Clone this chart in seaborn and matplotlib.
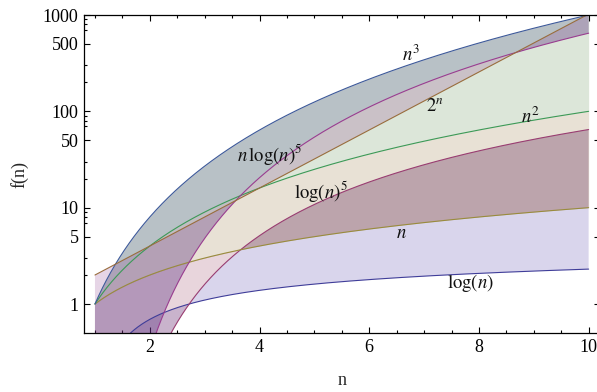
import numpy as np
import pandas as pd
import matplotlib
matplotlib.use("Agg")
import matplotlib.pyplot as plt
import seaborn as sns

# ---- data: the seven growth functions (in plot order) ----
curve_names = ["log(n)", "log(n)^5", "n", "n^2", "n^3", "n log(n)^5", "2^n"]
curve_colors = ["#3f3d99", "#993d71", "#998b3d", "#3d9956", "#3d5a99", "#993d90", "#996d3d"]
n_start, n_end = 1.0, 10.0
curve_funcs = {
    "log(n)": lambda n: np.log(n),
    "log(n)^5": lambda n: np.log(n) ** 5,
    "n": lambda n: n,
    "n^2": lambda n: n ** 2,
    "n^3": lambda n: n ** 3,
    "n log(n)^5": lambda n: n * np.log(n) ** 5,
    "2^n": lambda n: 2.0 ** n,
}
# filled bands between consecutive curves, with their translucent fill colours
fill_pairs = [(0, 1), (1, 2), (2, 3), (3, 4), (4, 5), (5, 6)]
fill_colors = ["#412da0", "#8c2d50", "#8c692d", "#508241", "#282d7a", "#822d82"]

# curve labels
label_texts = [r"$n^3$", r"$2^n$", r"$n^2$", r"$n\,\log(n)^5$", r"$\log(n)^5$", r"$n$", r"$\log(n)$"]
label_n = [6.77, 7.19, 8.94, 4.18, 5.12, 6.58, 7.84]
label_f = [383, 111, 87.7, 35.7, 14.7, 5.36, 1.65]

x_major = [2, 4, 6, 8, 10]
y_major = [1, 5, 10, 50, 100, 500, 1000]
y_minor = [2, 3, 7, 8, 9, 20, 30, 70, 80, 90, 200, 300, 700, 800, 900]

# ---- build table ----
n_grid = np.linspace(n_start, n_end, 1500)
frames = []
for name in curve_names:
    vals = np.maximum(curve_funcs[name](n_grid), 1e-8)
    frames.append(pd.DataFrame({"n": n_grid, "f": vals, "curve": name}))
df = pd.concat(frames, ignore_index=True)

sns.set_theme(style="ticks")
plt.rcParams["font.family"] = ["Liberation Serif", "DejaVu Serif"]
plt.rcParams["mathtext.fontset"] = "stix"

fig = plt.figure(figsize=(5.97, 3.92), dpi=100)
ax = fig.add_axes([84 / 597, 59 / 392, (599.6 - 84) / 597, 318 / 392])
ax.set_yscale("log")

for (i, j), fc in zip(fill_pairs, fill_colors):
    a = df[df.curve == curve_names[i]]["f"].to_numpy()
    b = df[df.curve == curve_names[j]]["f"].to_numpy()
    ax.fill_between(n_grid, a, b, color=fc, alpha=0.2, linewidth=0)

sns.lineplot(data=df, x="n", y="f", hue="curve", hue_order=curve_names,
             palette=dict(zip(curve_names, curve_colors)), estimator=None,
             legend=False, linewidth=0.8, ax=ax)

for t, xv, yv in zip(label_texts, label_n, label_f):
    ax.text(xv, yv, t, ha="center", va="center", fontsize=13.5, color="#111111")

ax.set_xlim(0.8, 10.2)
ax.set_ylim(0.5, 1000)
ax.set_xticks(x_major, labels=[str(v) for v in x_major])
ax.set_xticks(np.arange(1, 10.01, 0.5), minor=True)
ax.set_yticks(y_major, labels=[str(v) for v in y_major])
ax.set_yticks(y_minor, minor=True)
ax.yaxis.set_minor_formatter(matplotlib.ticker.NullFormatter())
ax.tick_params(which="both", direction="in", top=True, right=True, colors="black",
               labelsize=13, width=0.8)
ax.tick_params(which="major", length=4.3, pad=4)
ax.tick_params(which="minor", length=2.2)
for s in ax.spines.values():
    s.set_linewidth(0.9)
    s.set_color("black")

ax.set_xlabel("n", fontsize=13, labelpad=12)
ax.set_ylabel("f(n)", fontsize=13, labelpad=10)

fig.savefig("out.png", dpi=100)
